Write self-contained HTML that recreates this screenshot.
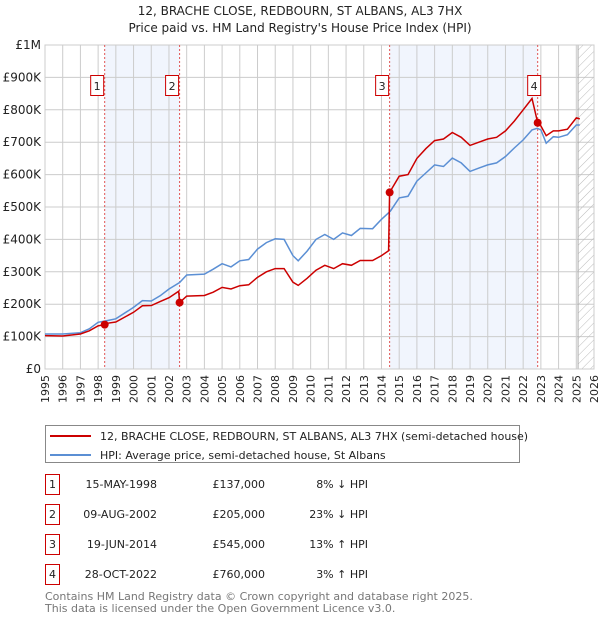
<!DOCTYPE html>
<html><head><meta charset="utf-8"><style>
body{margin:0;background:#fff;font-family:"Liberation Sans","DejaVu Sans",sans-serif;}
svg text{font-family:"DejaVu Sans","Liberation Sans",sans-serif;}
</style></head><body>
<svg id="chart" width="600" height="620" viewBox="0 0 600 620">
<text x="300" y="15" text-anchor="middle" font-size="12" fill="#222">12, BRACHE CLOSE, REDBOURN, ST ALBANS, AL3 7HX</text>
<text x="300" y="32" text-anchor="middle" font-size="12" fill="#222">Price paid vs. HM Land Registry's House Price Index (HPI)</text>
<g id="plot"></g>
<g>
<rect x="45.5" y="425.5" width="474" height="37" fill="#fff" stroke="#888"/>
<line x1="50" y1="436" x2="91" y2="436" stroke="#cc0000" stroke-width="2"/>
<text x="100" y="440" font-size="11" fill="#222">12, BRACHE CLOSE, REDBOURN, ST ALBANS, AL3 7HX (semi-detached house)</text>
<line x1="50" y1="455" x2="91" y2="455" stroke="#5b8fd4" stroke-width="2"/>
<text x="100" y="459" font-size="11" fill="#222">HPI: Average price, semi-detached house, St Albans</text>
</g>
<g id="table" font-size="11" fill="#222"></g>
<text x="45" y="600" font-size="11" fill="#777">Contains HM Land Registry data © Crown copyright and database right 2025.</text>
<text x="45" y="612" font-size="11" fill="#777">This data is licensed under the Open Government Licence v3.0.</text>
</svg>
<script>
const hpiYears=[1995,1996,1997,1997.5,1998,1998.4,1999,2000,2000.5,2001,2001.5,2002,2002.6,2003,2004,2004.5,2005,2005.5,2006,2006.5,2007,2007.5,2008,2008.5,2009,2009.3,2009.8,2010.3,2010.8,2011.3,2011.8,2012.3,2012.8,2013.5,2014,2014.5,2015,2015.5,2016,2016.5,2017,2017.5,2018,2018.5,2019,2019.5,2020,2020.5,2021,2021.5,2022,2022.5,2022.8,2023,2023.3,2023.7,2024,2024.5,2025,2025.2];
const hpiValues=[108,108,112,124,144,148,155,190,211,210,226,247,267,290,293,308,325,315,334,338,370,390,402,400,350,334,364,400,415,400,420,412,434,433,462,487,528,533,580,605,630,625,651,636,610,620,630,636,656,682,707,738,743,738,697,717,715,723,753,753];
const priceYears=[1995,1996,1997,1997.5,1998,1998.37,1998.5,1999,2000,2000.5,2001,2001.5,2002,2002.55,2002.6,2003,2004,2004.5,2005,2005.5,2006,2006.5,2007,2007.5,2008,2008.5,2009,2009.3,2009.8,2010.3,2010.8,2011.3,2011.8,2012.3,2012.8,2013.5,2014,2014.4,2014.46,2015,2015.5,2016,2016.5,2017,2017.5,2018,2018.5,2019,2019.5,2020,2020.5,2021,2021.5,2022,2022.5,2022.82,2023,2023.3,2023.7,2024,2024.5,2025,2025.2];
const priceValues=[103,102,108,118,133,137,141,145,175,195,196,208,220,240,205,225,227,237,252,247,257,260,283,300,310,310,268,258,280,305,320,310,325,320,335,335,350,365,545,595,600,650,680,705,710,730,715,690,700,710,715,735,765,800,835,760,750,720,735,735,740,775,772];
const saleYears=[1998.37,2002.6,2014.46,2022.82];
const saleValues=[137,205,545,760];
const saleLabels=["1","2","3","4"];
const saleDates=["15-MAY-1998","09-AUG-2002","19-JUN-2014","28-OCT-2022"];
const salePrices=["£137,000","£205,000","£545,000","£760,000"];
const saleHpi=["8% ↓ HPI","23% ↓ HPI","13% ↑ HPI","3% ↑ HPI"];
const yTicks=[0,100,200,300,400,500,600,700,800,900,1000];
const yTickLabels=["£0","£100K","£200K","£300K","£400K","£500K","£600K","£700K","£800K","£900K","£1M"];

const NS="http://www.w3.org/2000/svg";
const L=45,R=594,T=45,B=369,X0=1995,X1=2026;
const xs=y=>L+(y-X0)/(X1-X0)*(R-L);
const ys=v=>B-v/1000*(B-T);
function mk(tag,attrs,parent){const e=document.createElementNS(NS,tag);for(const k in attrs)e.setAttribute(k,attrs[k]);parent.appendChild(e);return e;}
const g=document.getElementById('plot');
// shading
for(const [a,b] of [[0,1],[2,3]]){
 const r=mk('rect',{x:xs(saleYears[a]),y:T,width:xs(saleYears[b])-xs(saleYears[a]),height:B-T,fill:'#eef3fc',opacity:0.8},g);
 
 
}
// grid
for(let yr=X0;yr<=X1;yr++){
 const l=mk('line',{x1:xs(yr),x2:xs(yr),y1:T,y2:B,stroke:'#ccc','stroke-width':1},g);
 
 
 const t=mk('text',{x:0,y:0,'font-size':11,fill:'#222','text-anchor':'end',transform:`translate(${xs(yr)+4},${B+6}) rotate(-90)`},g);
 t.textContent=yr;
 
 
}
yTicks.forEach((v,i)=>{
 const l=mk('line',{x1:L,x2:R,y1:ys(v),y2:ys(v),stroke:'#ccc','stroke-width':1},g);
 
 
 const t=mk('text',{x:L-4,y:ys(v)+4,'font-size':12,fill:'#222','text-anchor':'end'},g);
 t.textContent=yTickLabels[i];
 
 
});
// hatch region
const defs=mk('defs',{},g);
const p=mk('pattern',{id:'hatch',width:6,height:6,patternUnits:'userSpaceOnUse',patternTransform:'rotate(45)'},defs);
mk('line',{x1:0,y1:0,x2:0,y2:6,stroke:'#bbb','stroke-width':1},p);
const h=mk('rect',{x:xs(2025.1),y:T,width:R-xs(2025.1),height:B-T,fill:'url(#hatch)',stroke:'#aaa'},g);


mk('rect',{x:L,y:T,width:R-L,height:B-T,fill:'none',stroke:'#ccc'},g);
// sale dashed lines
saleYears.forEach((yr,i)=>{
 const l=mk('line',{x1:xs(yr),x2:xs(yr),y1:T,y2:B,stroke:'#e05555','stroke-width':1,'stroke-dasharray':'2,2'},g);
 
 
});
// series
function path(xa,va){return xa.map((x,i)=>(i?'L':'M')+xs(x).toFixed(1)+','+ys(va[i]).toFixed(1)).join('');}
const hp=mk('path',{d:path(hpiYears,hpiValues),fill:'none',stroke:'#5b8fd4','stroke-width':1.5},g);


const pp=mk('path',{d:path(priceYears,priceValues),fill:'none',stroke:'#cc0000','stroke-width':1.5},g);


saleYears.forEach((yr,i)=>{
 const c=mk('circle',{cx:xs(yr),cy:ys(saleValues[i]),r:4,fill:'#cc0000'},g);
 
 
 const bx=xs(yr)-8-(i==3?1:i==2?5:i<2?-1:0)-(i==0?8:i==1?4:0);
 const r=mk('rect',{x:xs(yr)-(i==2?14:i==3?10:14),y:75.5,width:13,height:20,fill:'#fff',stroke:'#cc0000'},g);
 
 
 const t=mk('text',{x:xs(yr)-(i==2?7.5:i==3?3.5:7.5),y:90,'font-size':11,'text-anchor':'middle',fill:'#222'},g);
 t.textContent=saleLabels[i];
 
 
});
// table
const tb=document.getElementById('table');
saleLabels.forEach((s,i)=>{
 const y=484+i*30;
 const r=mk('rect',{x:45.5,y:y-9.5,width:14,height:20,fill:'#fff',stroke:'#cc0000'},tb);
 
 
 const vals=[[52.5,s,'middle'],[157,saleDates[i],'end'],[265,salePrices[i],'end'],[368,saleHpi[i],'end']];
 vals.forEach(([x,txt,a])=>{
  const t=mk('text',{x:x,y:y+4,'text-anchor':a,'font-size':11,fill:'#222'},tb);
  t.textContent=txt;
  
  
 });
});
</script>
</body></html>
